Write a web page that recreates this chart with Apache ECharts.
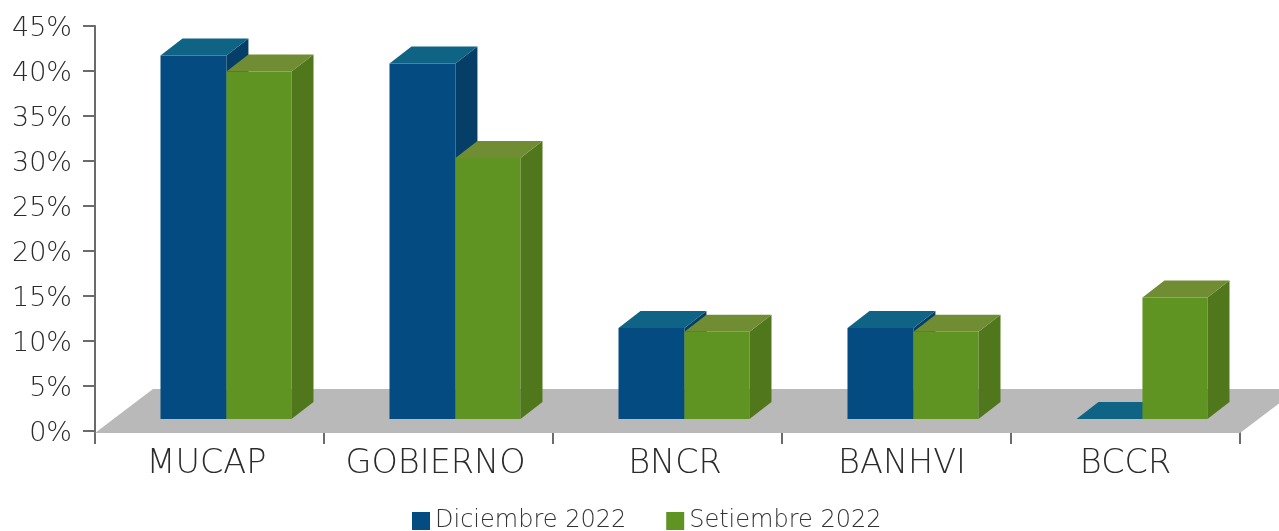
<!DOCTYPE html>
<html>
<head>
<meta charset="utf-8">
<style>html,body{margin:0;padding:0;background:#fff}#chart{width:1279px;height:531px}</style>
<script src="https://cdn.jsdelivr.net/npm/echarts@6/dist/echarts.min.js"></script>
</head>
<body>
<div id="chart"></div>
<script>
const categories = ['MUCAP', 'GOBIERNO', 'BNCR', 'BANHVI', 'BCCR'];
const diciembre = [40.4, 39.5, 10.1, 10.1, 0];
const setiembre = [38.6, 29, 9.7, 9.7, 13.5];
const yTicks = [0, 5, 10, 15, 20, 25, 30, 35, 40, 45];

const FONT = '"DejaVu Sans ExtraLight", "DejaVu Sans"';
const DEPTH_X = 22, DEPTH_Y = 17, LIFT = 12;

function box3d(shift, width, colors) {
  return function (params, api) {
    const band = api.size([1, 0])[0];
    const w = band * width;
    const p = api.coord([api.value(0), api.value(1)]);
    const x0 = p[0] + band * shift;
    const x1 = x0 + w;
    const yTop = p[1] - LIFT;
    const yBase = api.coord([api.value(0), 0])[1] - LIFT;
    const children = [];
    if (yBase > yTop) {
      children.push({ type: 'rect', shape: { x: x0, y: yTop, width: w, height: yBase - yTop }, style: { fill: colors[0] } });
      children.push({ type: 'polygon', shape: { points: [[x1, yTop], [x1 + DEPTH_X, yTop - DEPTH_Y], [x1 + DEPTH_X, yBase - DEPTH_Y], [x1, yBase]] }, style: { fill: colors[2] } });
    }
    children.push({ type: 'polygon', shape: { points: [[x0, yTop], [x0 + DEPTH_X, yTop - DEPTH_Y], [x1 + DEPTH_X, yTop - DEPTH_Y], [x1, yTop]] }, style: { fill: colors[1] } });
    return { type: 'group', children };
  };
}

function floor(params, api) {
  const band = api.size([1, 0])[0];
  const first = api.coord([0, 0]);
  const last = api.coord([categories.length - 1, 0]);
  const left = first[0] - band / 2, right = last[0] + band / 2, y = first[1];
  return {
    type: 'polygon',
    shape: { points: [[left, y + 2], [right, y + 2], [right + 58, y - 42], [left + 58, y - 42]] },
    style: { fill: '#b9b9b9' }
  };
}

// the source labels are not quite centred under their bands
const xLabel = { fontFamily: FONT, fontWeight: 200, fontSize: 33.5, color: '#2b2b2b' };
const xRich = {
  l0: { ...xLabel, padding: [0, 6, 0, 0] },
  l1: { ...xLabel, padding: [0, 6, 0, 0] },
  l2: { ...xLabel, padding: [0, 0, 0, 15] },
  l3: { ...xLabel, padding: [0, 0, 0, 11] },
  l4: { ...xLabel }
};

const chart = echarts.init(document.getElementById('chart'));
chart.setOption({
  animation: false,
  backgroundColor: '#fff',
  grid: { left: 95, right: 39, top: 26, bottom: 100 },
  legend: {
    data: ['Diciembre 2022', 'Setiembre 2022'],
    left: 407, top: 504, itemWidth: 18, itemHeight: 18, itemGap: 40, icon: 'rect',
    textStyle: { fontFamily: FONT, fontWeight: 200, fontSize: 24, color: '#333' }
  },
  xAxis: {
    type: 'category',
    data: categories,
    axisLine: { show: false },
    axisTick: { show: true, interval: 0, length: 13, lineStyle: { color: '#6b6b6b', width: 2 } },
    axisLabel: { interval: 0, margin: 16, ...xLabel, rich: xRich, formatter: (v, i) => `{l${i}|${v}}` },
    splitLine: { show: false }
  },
  yAxis: {
    type: 'value',
    min: 0, max: 45, interval: 5,
    axisLine: { show: true, lineStyle: { color: '#6b6b6b', width: 2 } },
    axisTick: { show: true, length: 12, lineStyle: { color: '#6b6b6b', width: 2 } },
    axisLabel: {
      margin: 23, fontFamily: FONT, fontWeight: 200, fontSize: 27, color: '#2b2b2b',
      rich: { t: { fontFamily: FONT, fontWeight: 200, fontSize: 27, color: '#2b2b2b', padding: [6, 0, 0, 0] } },
      formatter: v => yTicks.includes(v) ? `{t|${v}%}` : ''
    },
    splitLine: { show: false }
  },
  series: [
    { type: 'custom', name: 'floor', silent: true, z: 1, data: [[0, 0]], encode: { x: 0, y: 1 }, renderItem: floor },
    { type: 'custom', name: 'Diciembre 2022', z: 2, itemStyle: { color: '#034b80' }, data: diciembre.map((v, i) => [i, v]), encode: { x: 0, y: 1 }, renderItem: box3d(-0.214, 0.288, ['#034b80', '#0f6485', '#053f68']) },
    { type: 'custom', name: 'Setiembre 2022', z: 3, itemStyle: { color: '#5f9423' }, data: setiembre.map((v, i) => [i, v]), encode: { x: 0, y: 1 }, renderItem: box3d(0.074, 0.284, ['#5f9423', '#708d34', '#50771c']) }
  ]
});
</script>
</body>
</html>
